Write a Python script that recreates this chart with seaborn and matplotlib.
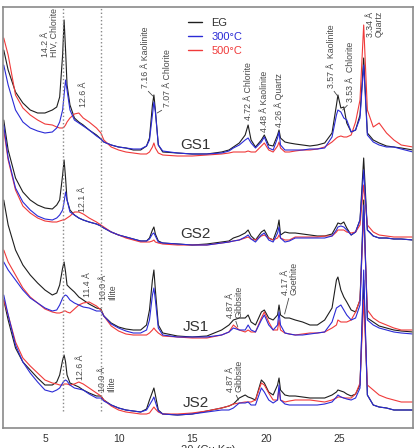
import matplotlib
matplotlib.use("Agg")
import matplotlib.pyplot as plt
from matplotlib.lines import Line2D
import seaborn as sns
import pandas as pd

# 2-theta positions (deg, Cu K-alpha) shared by every pattern
two_theta = [2.2, 2.5, 3.0, 3.5, 4.0, 4.5, 5.0, 5.5, 5.8, 6.0,
             6.2, 6.3, 6.4, 6.5, 6.7, 7.0, 7.3, 7.6, 8.0, 8.5,
             8.8, 9.0, 9.5, 10.0, 10.5, 11.0, 11.5, 11.9, 12.1, 12.3,
             12.4, 12.5, 12.7, 13.0, 14.0, 15.0, 16.0, 17.0, 17.5, 17.8,
             18.2, 18.6, 18.8, 19.0, 19.3, 19.7, 19.9, 20.2, 20.5, 20.8,
             20.9, 21.0, 21.3, 21.6, 22.0, 22.5, 23.0, 23.5, 24.0, 24.5,
             24.8, 24.9, 25.1, 25.3, 25.5, 25.8, 26.1, 26.4, 26.65, 26.9,
             27.3, 27.7, 28.2, 28.7, 29.2, 30.0]

# stacked intensities (arbitrary units, offsets included)
gs1_eg = [378, 358, 336, 325, 318, 315, 315, 318, 321, 331,
          373, 408, 378, 343, 323, 310, 306, 303, 298, 293,
          289, 286, 283, 281, 280, 278, 278, 282, 290, 323,
          333, 318, 283, 276, 275, 274, 274, 276, 278, 281,
          285, 293, 303, 288, 281, 288, 293, 283, 282, 293,
          298, 290, 286, 285, 284, 283, 282, 283, 285, 295,
          323, 333, 320, 321, 305, 296, 298, 313, 370, 295,
          288, 285, 282, 281, 280, 278]
gs1_300 = [363, 343, 318, 306, 300, 297, 295, 296, 300, 306,
           318, 333, 348, 338, 318, 308, 305, 302, 298, 292,
           289, 286, 283, 281, 280, 279, 279, 282, 288, 313,
           326, 316, 283, 277, 275, 274, 274, 275, 277, 280,
           283, 288, 290, 285, 280, 286, 291, 280, 278, 290,
           296, 283, 278, 278, 278, 278, 279, 279, 280, 291,
           313, 318, 316, 310, 308, 296, 298, 310, 363, 293,
           286, 283, 281, 281, 279, 276]
gs1_500 = [390, 373, 333, 320, 313, 308, 304, 303, 301, 300,
           300, 301, 303, 306, 310, 314, 315, 310, 306, 300,
           295, 288, 281, 278, 276, 275, 274, 274, 276, 281,
           285, 280, 275, 273, 272, 272, 273, 274, 275, 276,
           276, 276, 277, 276, 276, 282, 285, 278, 276, 282,
           286, 280, 276, 276, 277, 278, 278, 279, 281, 286,
           290, 291, 292, 291, 291, 293, 306, 328, 403, 318,
           301, 305, 295, 288, 283, 281]

gs2_eg = [308, 278, 250, 236, 228, 223, 220, 219, 223, 228,
          253, 268, 250, 228, 218, 213, 210, 208, 206, 204,
          202, 200, 196, 193, 191, 189, 187, 187, 190, 198,
          201, 194, 187, 185, 184, 183, 184, 186, 187, 190,
          192, 195, 198, 192, 188, 196, 198, 190, 188, 200,
          208, 193, 196, 195, 195, 194, 193, 192, 192, 194,
          202, 205, 204, 206, 200, 193, 196, 208, 270, 198,
          192, 190, 190, 189, 189, 188]
gs2_300 = [303, 270, 240, 226, 218, 212, 209, 208, 210, 213,
           218, 226, 236, 228, 216, 213, 210, 208, 206, 204,
           202, 200, 196, 193, 191, 189, 187, 187, 189, 194,
           195, 192, 186, 185, 184, 183, 183, 185, 186, 187,
           188, 191, 193, 189, 186, 193, 195, 188, 186, 195,
           201, 190, 186, 187, 190, 190, 190, 190, 190, 192,
           198, 201, 202, 201, 198, 193, 196, 208, 258, 198,
           192, 190, 190, 189, 189, 188]
gs2_500 = [298, 268, 238, 222, 215, 210, 207, 206, 206, 207,
           208, 208, 209, 210, 212, 216, 216, 214, 210, 206,
           203, 201, 196, 193, 190, 188, 186, 186, 186, 187,
           188, 186, 185, 184, 183, 183, 183, 185, 186, 187,
           188, 190, 191, 189, 188, 192, 193, 190, 188, 190,
           193, 190, 188, 188, 191, 191, 191, 191, 192, 192,
           196, 198, 198, 198, 196, 195, 196, 203, 243, 203,
           196, 193, 192, 191, 191, 191]

js1_eg = [228, 203, 178, 163, 153, 145, 138, 133, 135, 143,
          160, 166, 156, 143, 140, 136, 131, 128, 124, 120,
          119, 112, 105, 101, 99, 98, 98, 103, 118, 148,
          158, 138, 103, 95, 92, 91, 92, 98, 103, 108,
          110, 110, 113, 106, 103, 116, 118, 110, 108, 113,
          123, 113, 110, 110, 108, 106, 103, 103, 108, 120,
          148, 151, 138, 131, 126, 118, 116, 128, 228, 110,
          106, 102, 100, 98, 97, 96]
js1_300 = [166, 158, 148, 138, 130, 125, 120, 117, 118, 123,
           130, 132, 133, 132, 128, 125, 123, 121, 120, 117,
           117, 112, 104, 100, 97, 95, 95, 98, 108, 133,
           140, 128, 100, 93, 91, 91, 91, 93, 96, 100,
           98, 98, 103, 98, 96, 108, 113, 103, 98, 103,
           116, 103, 95, 94, 93, 93, 94, 95, 96, 106,
           120, 121, 123, 118, 113, 108, 110, 123, 223, 108,
           103, 100, 98, 96, 95, 94]
js1_500 = [178, 166, 153, 140, 131, 125, 119, 116, 115, 115,
           116, 117, 117, 116, 115, 119, 123, 125, 126, 122,
           118, 112, 102, 97, 94, 93, 93, 93, 95, 98,
           100, 98, 95, 92, 91, 90, 90, 93, 96, 103,
           98, 96, 98, 96, 96, 110, 116, 106, 98, 98,
           108, 98, 95, 94, 93, 94, 95, 95, 96, 100,
           103, 108, 106, 106, 106, 108, 116, 128, 213, 118,
           110, 106, 103, 100, 98, 98]

js2_eg = [128, 108, 80, 66, 58, 50, 43, 43, 46, 53,
          68, 73, 66, 53, 45, 43, 41, 38, 35, 32,
          32, 28, 23, 20, 18, 17, 16, 19, 28, 36,
          40, 33, 18, 14, 13, 14, 17, 20, 22, 24,
          30, 33, 31, 30, 28, 48, 45, 36, 33, 43,
          50, 38, 33, 32, 32, 31, 30, 30, 30, 33,
          36, 38, 37, 36, 34, 32, 34, 43, 148, 33,
          23, 21, 20, 18, 18, 18]
js2_300 = [133, 113, 83, 66, 55, 46, 38, 36, 38, 40,
           45, 47, 48, 47, 43, 40, 39, 38, 34, 30,
           30, 27, 23, 20, 18, 17, 16, 18, 23, 28,
           31, 26, 17, 14, 13, 14, 16, 18, 18, 20,
           25, 25, 26, 23, 23, 40, 36, 28, 25, 28,
           43, 28, 24, 23, 23, 23, 23, 23, 24, 26,
           31, 33, 31, 30, 29, 28, 30, 40, 158, 33,
           23, 21, 20, 18, 18, 18]
js2_500 = [128, 113, 86, 70, 62, 55, 48, 45, 44, 43,
           43, 44, 44, 44, 43, 44, 46, 44, 40, 35,
           32, 28, 22, 18, 16, 15, 14, 14, 15, 19,
           21, 19, 16, 14, 14, 15, 17, 20, 22, 24,
           25, 26, 26, 26, 28, 45, 43, 35, 28, 28,
           40, 28, 26, 27, 28, 28, 28, 27, 26, 28,
           30, 31, 31, 30, 30, 30, 34, 45, 128, 43,
           38, 33, 30, 28, 26, 26]

samples = ["GS1", "GS2", "JS1", "JS2"]
treatments = ["EG", "300°C", "500°C"]
patterns = {
    ("GS1", "EG"): gs1_eg, ("GS1", "300°C"): gs1_300, ("GS1", "500°C"): gs1_500,
    ("GS2", "EG"): gs2_eg, ("GS2", "300°C"): gs2_300, ("GS2", "500°C"): gs2_500,
    ("JS1", "EG"): js1_eg, ("JS1", "300°C"): js1_300, ("JS1", "500°C"): js1_500,
    ("JS2", "EG"): js2_eg, ("JS2", "300°C"): js2_300, ("JS2", "500°C"): js2_500,
}
colors = {"EG": "#1e1e1e", "300°C": "#2b2bd6", "500°C": "#f03a3a"}

# sample name positions (2theta, intensity)
sample_x = [15.25, 15.25, 15.25, 15.25]
sample_y = [283, 194, 101, 25]

# d-spacing notes: (text, x, y, peak_x or None, peak_y)
notes = [
    ("14.2 Å\nHIV, Chlorite", 5.34, 371, None, None),
    ("12.6 Å", 7.65, 321, None, None),
    ("7.16 Å Kaolinite", 11.80, 340, 12.33, 332),
    ("7.07 Å Chlorite", 13.30, 321, 12.62, 315),
    ("4.72 Å Chlorite", 18.84, 308, None, None),
    ("4.48 Å Kaolinite", 19.89, 296, None, None),
    ("4.26 Å Quartz", 20.91, 301, None, None),
    ("3.57 Å  Kaolinite", 24.47, 340, 24.88, 332),
    ("3.53 Å  Chlorite", 25.76, 326, 25.22, 318),
    ("3.34 Å\nQuartz", 27.39, 391, None, None),
    ("12.1 Å", 7.58, 216, None, None),
    ("11.4 Å", 7.92, 131, None, None),
    ("10.0 Å\nIllite", 9.27, 128, None, None),
    ("4.87 Å\nGibbsite", 17.89, 110, 18.10, 101),
    ("4.17 Å\nGoethite", 21.62, 133, 21.28, 114),
    ("12.6 Å", 7.44, 48, None, None),
    ("10.0 Å\nIllite", 9.20, 36, None, None),
    ("4.87 Å\nGibbsite", 17.89, 36, 18.15, 28),
]
guide_lines = [6.22, 8.84]

rows = []
for s in samples:
    for t in treatments:
        for x, y in zip(two_theta, patterns[(s, t)]):
            rows.append({"sample": s, "treatment": t, "two_theta": x, "intensity": y})
df = pd.DataFrame(rows)

sns.set_style("white")
plt.rcParams["font.family"] = ["Liberation Sans", "DejaVu Sans"]

fig = plt.figure(figsize=(4.17, 4.48), dpi=100)
ax = fig.add_axes([3 / 417, 20 / 448, 410 / 417, 421 / 448])

# draw black first, red next, blue on top
for s in samples:
    for t in ["EG", "500°C", "300°C"]:
        sub = df[(df["sample"] == s) & (df["treatment"] == t)]
        sns.lineplot(data=sub, x="two_theta", y="intensity", color=colors[t],
                     lw=0.8, ax=ax, legend=False, estimator=None, sort=False)

for gx in guide_lines:
    ax.axvline(gx, ymin=0.04, ymax=1, color="#888888", ls=":", lw=1)

for s, x, y in zip(samples, sample_x, sample_y):
    ax.text(x, y, s, fontsize=11, color="#333333", ha="center", va="center")

for text, x, y, px, py in notes:
    if px is None:
        ax.text(x, y, text, rotation=90, fontsize=6.3, color="#4a4a4a",
                ha="center", va="bottom", multialignment="left", linespacing=1.0)
    else:
        ax.annotate(text, xy=(px, py), xytext=(x, y), rotation=90, fontsize=6.3,
                    color="#4a4a4a", ha="center", va="bottom",
                    multialignment="left", linespacing=1.0,
                    arrowprops=dict(arrowstyle="-", color="#4a4a4a", lw=0.6,
                                    shrinkA=0, shrinkB=0, relpos=(0.5, 0)))

handles = [Line2D([], [], color=colors[t], lw=1) for t in treatments]
leg = ax.legend(handles, treatments, loc="upper left", bbox_to_anchor=(0.44, 0.985),
                frameon=False, fontsize=8, handlelength=1.3, handletextpad=0.8,
                labelspacing=0.35, borderaxespad=0)
for txt, t in zip(leg.get_texts(), treatments):
    txt.set_color("#333333" if t == "EG" else colors[t])

ax.set_xlim(2.15, 30)
ax.set_ylim(0, 421)
ax.set_xticks([5, 10, 15, 20, 25])
ax.set_yticks([])
ax.tick_params(axis="x", length=0, pad=4, labelsize=7.5, labelcolor="#333333")
ax.set_xlabel("2θ (Cu Kα)", fontsize=8, labelpad=1, color="#333333")
ax.set_ylabel("")
for sp in ax.spines.values():
    sp.set_color("#8a8a8a")
    sp.set_linewidth(1.2)

fig.savefig("out.png", dpi=100)
